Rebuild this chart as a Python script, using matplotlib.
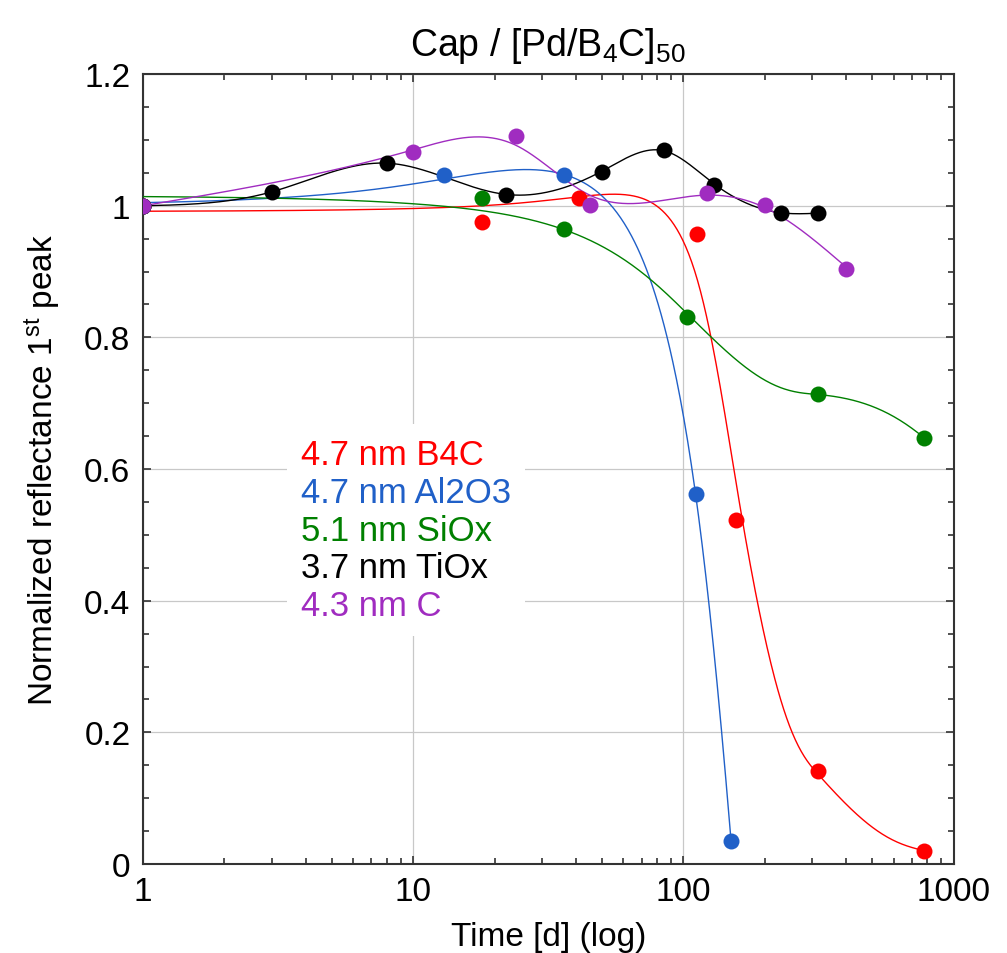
import numpy as np
import matplotlib
matplotlib.use("Agg")
import matplotlib.pyplot as plt
from matplotlib.lines import Line2D
from matplotlib.ticker import FixedLocator, LogLocator, MultipleLocator, FuncFormatter, NullFormatter

plt.rcParams['font.family'] = ['Liberation Sans', 'DejaVu Sans']
plt.rcParams['mathtext.fontset'] = 'custom'
plt.rcParams['mathtext.rm'] = 'Liberation Sans'
plt.rcParams['mathtext.it'] = 'Liberation Sans'
plt.rcParams['mathtext.default'] = 'regular'

# data (time in days, normalized reflectance)
b4c_t = [1, 18, 41, 112, 157, 315, 780]
b4c_r = [1.0, 0.976, 1.012, 0.957, 0.523, 0.141, 0.020]

al2o3_t = [1, 13, 36, 111, 150]
al2o3_r = [1.0, 1.046, 1.047, 0.562, 0.035]

siox_t = [1, 18, 36, 103, 315, 780]
siox_r = [1.0, 1.011, 0.964, 0.831, 0.714, 0.647]

tiox_t = [1, 3, 8, 22, 50, 85, 130, 230, 315]
tiox_r = [1.0, 1.021, 1.065, 1.017, 1.052, 1.085, 1.032, 0.989, 0.989]

c_t = [1, 10, 24, 45, 122, 200, 400]
c_r = [1.0, 1.081, 1.106, 1.001, 1.020, 1.001, 0.904]

labels = ['4.7 nm B4C', '4.7 nm Al2O3', '5.1 nm SiOx', '3.7 nm TiOx', '4.3 nm C']
colors = ['#ff0000', '#2060c8', '#008000', '#000000', '#a02cc0']
# smoothing factor, and whether the spline is fitted against log10(t)
smoothing = [(1e4, False), (300, False), (1e4, False), (4e-5, True), (8e-4, True)]


def smoothing_spline(t, r, lam, logx, n=800):
    # cubic smoothing spline (Reinsch), evaluated on a log spaced grid
    t = np.asarray(t, float)
    x = np.log10(t) if logx else t
    y = np.asarray(r, float)
    m = len(x)
    h = np.diff(x)
    Q = np.zeros((m, m - 2))
    R = np.zeros((m - 2, m - 2))
    for j in range(1, m - 1):
        Q[j - 1, j - 1] = 1 / h[j - 1]
        Q[j, j - 1] = -1 / h[j - 1] - 1 / h[j]
        Q[j + 1, j - 1] = 1 / h[j]
        R[j - 1, j - 1] = (h[j - 1] + h[j]) / 3
        if j < m - 2:
            R[j - 1, j] = R[j, j - 1] = h[j] / 6
    gam = np.linalg.solve(R + lam * Q.T @ Q, Q.T @ y)
    g = y - lam * Q @ gam
    gam = np.concatenate([[0], gam, [0]])
    ts = np.logspace(np.log10(t[0]), np.log10(t[-1]), n)
    xs = np.log10(ts) if logx else ts
    k = np.clip(np.searchsorted(x, xs) - 1, 0, m - 2)
    a = xs - x[k]
    b = x[k + 1] - xs
    hk = h[k]
    ys = (a * g[k + 1] + b * g[k]) / hk \
        - a * b / 6 * ((1 + a / hk) * gam[k + 1] + (1 + b / hk) * gam[k])
    return ts, ys


series = [(b4c_t, b4c_r), (al2o3_t, al2o3_r), (siox_t, siox_r),
          (tiox_t, tiox_r), (c_t, c_r)]

fig = plt.figure(figsize=(10.07, 9.54), dpi=100)
ax = fig.add_axes([0.142, 0.0933, 0.805, 0.828])

for (t, r), col, (lam, logx) in zip(series, colors, smoothing):
    xs, ys = smoothing_spline(t, r, lam, logx)
    ax.plot(xs, ys, color=col, lw=1.0, zorder=3)
for (t, r), col in zip(series, colors):
    ax.plot(t, r, 'o', color=col, ms=11.5, mec='none', zorder=4)

ax.set_xscale('log')
ax.set_xlim(1, 1000)
ax.set_ylim(0, 1.2)
ax.xaxis.set_major_locator(FixedLocator([1, 10, 100, 1000]))
ax.xaxis.set_minor_locator(LogLocator(base=10, subs=np.arange(2, 10)))
ax.xaxis.set_major_formatter(FuncFormatter(lambda v, p: '%g' % v))
ax.xaxis.set_minor_formatter(NullFormatter())
ax.yaxis.set_major_locator(MultipleLocator(0.2))
ax.yaxis.set_minor_locator(MultipleLocator(0.05))
ax.yaxis.set_major_formatter(FuncFormatter(lambda v, p: '%g' % round(v, 2)))

ax.grid(True, which='major', color='#c8c8c8', lw=0.9, zorder=0)
ax.set_axisbelow(True)
ax.tick_params(which='both', direction='in', top=True, right=True,
               labelsize=24, width=1.2, color='#333333')
ax.tick_params(which='major', length=6, pad=9)
ax.tick_params(which='minor', length=4)
for s in ax.spines.values():
    s.set_linewidth(1.5)
    s.set_color('#333333')

ax.set_title('Cap / [Pd/B$_4$C]$_{50}$', fontsize=27, pad=14)
ax.set_xlabel('Time [d] (log)', fontsize=24, labelpad=10)
ax.set_ylabel('Normalized reflectance 1$^{st}$ peak', fontsize=24, labelpad=15)

handles = [Line2D([], [], linestyle='none') for _ in labels]
leg = ax.legend(handles, labels, loc='upper left', bbox_to_anchor=(0.178, 0.557),
                borderaxespad=0, handlelength=0, handletextpad=0, labelcolor=colors,
                fontsize=25, frameon=True, fancybox=False, framealpha=1,
                edgecolor='none', facecolor='white', labelspacing=0.14, borderpad=0.4)
leg.set_zorder(5)

fig.savefig('out.png', dpi=100)
